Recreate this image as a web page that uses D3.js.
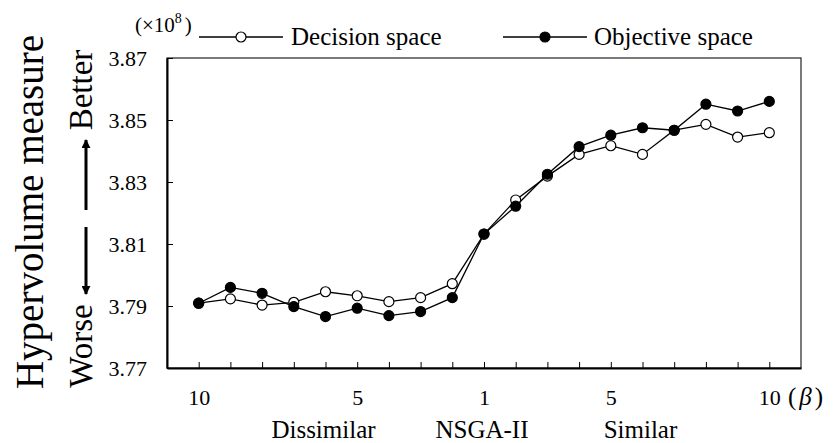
<!DOCTYPE html>
<html>
<head>
<meta charset="utf-8">
<script src="https://cdn.jsdelivr.net/npm/d3@7"></script>
<style>
  html, body { margin: 0; padding: 0; background: #fff; }
  svg { display: block; }
  text { font-family: "Liberation Serif", "Times New Roman", "DejaVu Serif", serif; fill: #000; }
</style>
</head>
<body>
<svg id="chart" width="835" height="443"></svg>
<script>
// β settings along the x axis: dissimilar side, NSGA-II (β = 1), similar side
const betaValues = [10, 9, 8, 7, 6, 5, 4, 3, 2, 1, 2, 3, 4, 5, 6, 7, 8, 9, 10];
const labelledBeta = [10, 5, 1];
const regionLabels = ["Dissimilar", "NSGA-II", "Similar"];
const regionCentres = [4, 9, 14];   // index of the β step each region label sits under

// Hypervolume (×10^8) for each β setting
const decisionSpace  = [3.7909, 3.7923, 3.7903, 3.7912, 3.7946, 3.7933, 3.7914, 3.7927, 3.7972,
                        3.8132, 3.8242, 3.8319, 3.8389, 3.8417, 3.8389, 3.8467, 3.8486, 3.8445, 3.8459];
const objectiveSpace = [3.7909, 3.7960, 3.7941, 3.7898, 3.7866, 3.7893, 3.7869, 3.7882, 3.7927,
                        3.8132, 3.8222, 3.8325, 3.8414, 3.8451, 3.8475, 3.8467, 3.8551, 3.8529, 3.8560];

const yTicks = [3.77, 3.79, 3.81, 3.83, 3.85, 3.87];
const seriesNames = ["Decision space", "Objective space"];

const svg = d3.select("#chart");
const box = { left: 167, right: 801, top: 58, bottom: 368 };

// Keys keep the two sides of the β axis apart
const keys = betaValues.map((b, i) => (i < 9 ? "d" : i === 9 ? "n" : "s") + b);

const x = d3.scalePoint().domain(keys).range([box.left, box.right]).padding(1);
const y = d3.scaleLinear().domain([3.77, 3.87]).range([box.bottom, box.top]);

// frame (top / right)
svg.append("rect")
  .attr("x", box.left).attr("y", box.top)
  .attr("width", box.right - box.left).attr("height", box.bottom - box.top)
  .attr("fill", "none").attr("stroke", "#222").attr("stroke-width", 1.2);

// y axis
const yAxis = svg.append("g")
  .attr("transform", `translate(${box.left},0)`)
  .call(d3.axisLeft(y).tickValues(yTicks).tickFormat(d3.format(".2f"))
    .tickSize(-6).tickSizeOuter(0).tickPadding(20));
yAxis.select(".domain").attr("stroke", "#000").attr("stroke-width", 2);
yAxis.selectAll(".tick line").attr("stroke", "#000").attr("stroke-width", 1);
yAxis.selectAll("text").style("font-size", "22px").attr("font-family", null);

// x axis
const xAxis = svg.append("g")
  .attr("transform", `translate(0,${box.bottom})`)
  .call(d3.axisBottom(x)
    .tickFormat((k, i) => labelledBeta.includes(betaValues[i]) ? String(betaValues[i]) : "")
    .tickSize(-6).tickSizeOuter(0).tickPadding(21));
xAxis.select(".domain").attr("stroke", "#000").attr("stroke-width", 2);
xAxis.selectAll(".tick line").attr("stroke", "#000").attr("stroke-width", 1);
xAxis.selectAll("text").style("font-size", "22px").attr("font-family", null);

// (β) marker after the last tick label
const betaText = svg.append("text")
  .attr("x", 788).attr("y", 405)
  .style("font-size", "25px");
betaText.append("tspan").text("(");
betaText.append("tspan").attr("dx", 3).style("font-style", "italic").text("β");
betaText.append("tspan").attr("dx", 3).text(")");

// region labels under the axis
svg.selectAll("text.region")
  .data(regionLabels)
  .join("text")
  .attr("class", "region")
  .attr("x", (d, i) => x(keys[regionCentres[i]]) - 2)
  .attr("y", 438)
  .attr("text-anchor", "middle")
  .style("font-size", "25px")
  .text(d => d);

// series lines and markers
const line = d3.line().x((d, i) => x(keys[i])).y(d => y(d));
const series = [
  { name: seriesNames[0], values: decisionSpace, fill: "#fff" },
  { name: seriesNames[1], values: objectiveSpace, fill: "#000" }
];

series.forEach(s => {
  const g = svg.append("g");
  g.append("path")
    .attr("d", line(s.values))
    .attr("fill", "none").attr("stroke", "#000").attr("stroke-width", 1.3);
  g.selectAll("circle")
    .data(s.values)
    .join("circle")
    .attr("cx", (d, i) => x(keys[i]))
    .attr("cy", d => y(d))
    .attr("r", 5)
    .attr("fill", s.fill).attr("stroke", "#000").attr("stroke-width", 1.2);
});

// legend
const legendItems = [
  { name: seriesNames[0], fill: "#fff", x0: 199, x1: 283, tx: 291 },
  { name: seriesNames[1], fill: "#000", x0: 503, x1: 587, tx: 594 }
];
legendItems.forEach(l => {
  svg.append("line")
    .attr("x1", l.x0).attr("x2", l.x1).attr("y1", 37).attr("y2", 37)
    .attr("stroke", "#000").attr("stroke-width", 1.3);
  svg.append("circle")
    .attr("cx", (l.x0 + l.x1) / 2).attr("cy", 37).attr("r", 5)
    .attr("fill", l.fill).attr("stroke", "#000").attr("stroke-width", 1.2);
  svg.append("text")
    .attr("x", l.tx).attr("y", 45)
    .style("font-size", "25px")
    .text(l.name);
});

// unit note (×10^8)
const unit = svg.append("text").attr("x", 135).attr("y", 32).style("font-size", "21px");
unit.append("tspan").text("(×10");
unit.append("tspan").attr("dy", -9).style("font-size", "14px").text("8");
unit.append("tspan").attr("dy", 9).attr("dx", 3).text(")");

// y title
svg.append("text")
  .attr("transform", "translate(43,212) rotate(-90)")
  .attr("text-anchor", "middle")
  .style("font-size", "39px")
  .text("Hypervolume measure");

// Better / Worse with arrows
svg.append("text")
  .attr("transform", "translate(92,90) rotate(-90)")
  .attr("text-anchor", "middle")
  .style("font-size", "33px")
  .text("Better");
svg.append("text")
  .attr("transform", "translate(92,346) rotate(-90)")
  .attr("text-anchor", "middle")
  .style("font-size", "33px")
  .text("Worse");

const defs = svg.append("defs");
defs.append("marker")
  .attr("id", "head").attr("viewBox", "0 0 10 10")
  .attr("refX", 9).attr("refY", 5)
  .attr("markerWidth", 3).attr("markerHeight", 3)
  .attr("orient", "auto")
  .append("path").attr("d", "M0,0 L10,5 L0,10 Z").attr("fill", "#000");

svg.append("line")
  .attr("x1", 86).attr("x2", 86).attr("y1", 210).attr("y2", 140)
  .attr("stroke", "#000").attr("stroke-width", 3).attr("marker-end", "url(#head)");
svg.append("line")
  .attr("x1", 86).attr("x2", 86).attr("y1", 227).attr("y2", 294)
  .attr("stroke", "#000").attr("stroke-width", 3).attr("marker-end", "url(#head)");
</script>
</body>
</html>
